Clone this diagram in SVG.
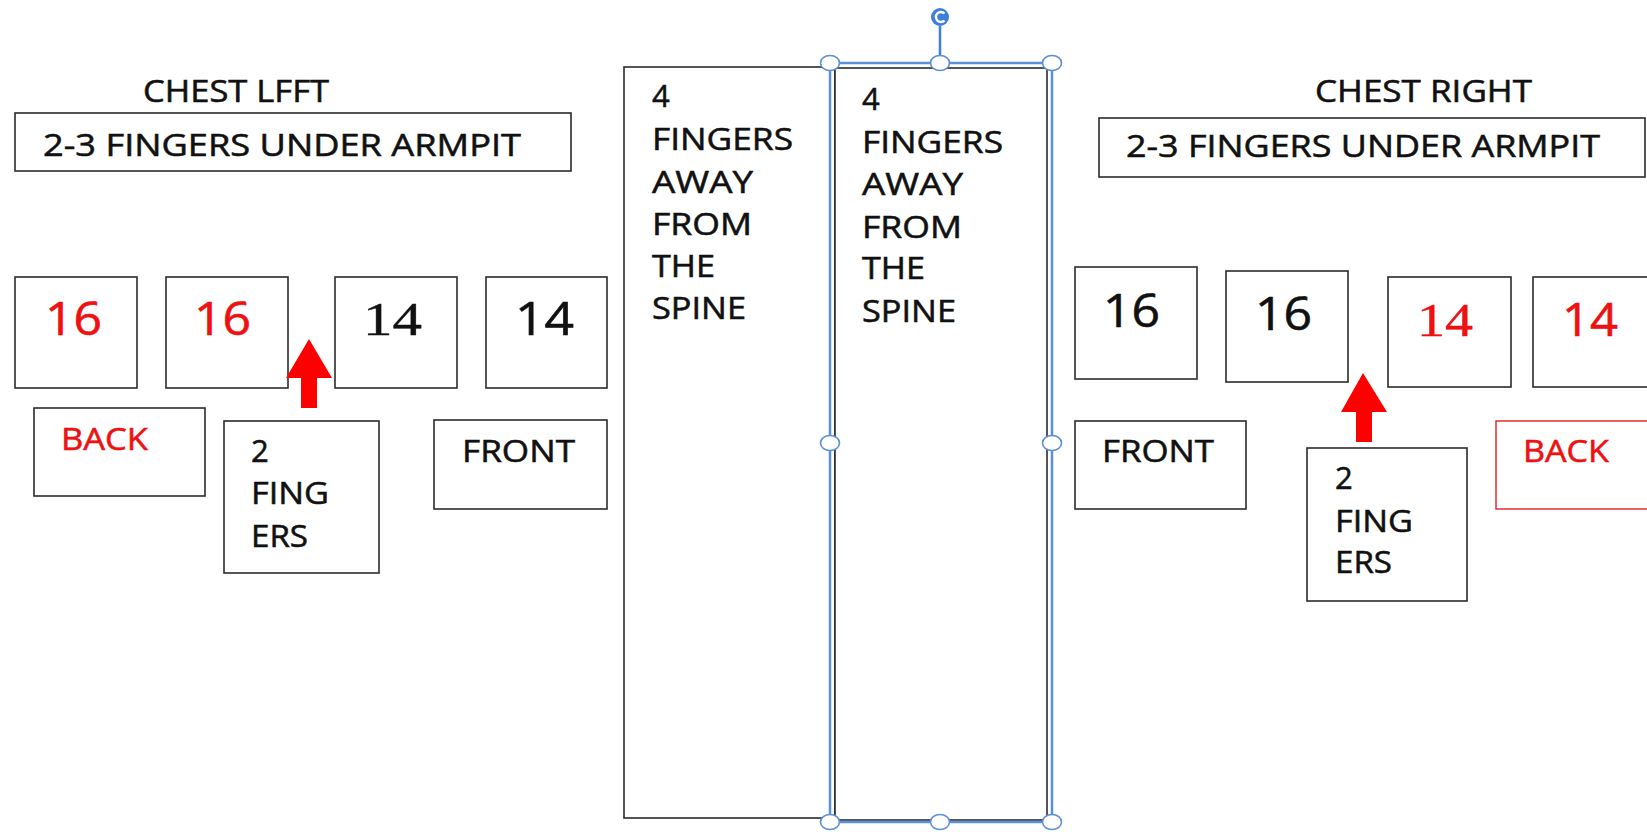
<svg xmlns="http://www.w3.org/2000/svg" width="1647" height="832" viewBox="0 0 1647 832">
<style>
.bx{fill:#fff;stroke:#2b2b2b;stroke-width:1.6}
.bxr{fill:#fff;stroke:#e02020;stroke-width:1.4}
.t{font-family:"Open Sans","Liberation Sans",sans-serif;font-size:31px;fill:#111;stroke:#111;stroke-width:0.55}
.num{font-family:"Open Sans","Liberation Sans",sans-serif;font-size:45px;fill:#111;stroke:#111;stroke-width:0.6}
.ser{font-family:"Liberation Serif","DejaVu Serif",serif;font-size:47px;fill:#111;stroke:#111;stroke-width:0.4}
text.r{fill:#ee1111;stroke:#ee1111}
.arr{fill:#ff0000}
.sel{fill:none;stroke:#5b8fd6;stroke-width:2.5}
.hd{fill:#fff;stroke:#5b8fd6;stroke-width:1.6}
</style>
<rect width="1647" height="832" fill="#fff"/>

<g id="title-left"><text class="t" x="143" y="102" textLength="186" lengthAdjust="spacingAndGlyphs">CHEST LFFT</text></g>
<g id="armpit-left"><rect class="bx" x="15" y="113" width="556" height="58"/><text class="t" x="43" y="156" textLength="478" lengthAdjust="spacingAndGlyphs">2-3 FINGERS UNDER ARMPIT</text></g>

<g id="title-right"><text class="t" x="1315" y="102" textLength="217" lengthAdjust="spacingAndGlyphs">CHEST RIGHT</text></g>
<g id="armpit-right"><rect class="bx" x="1099" y="118" width="546" height="59"/><text class="t" x="1126" y="157" textLength="474" lengthAdjust="spacingAndGlyphs">2-3 FINGERS UNDER ARMPIT</text></g>

<g id="l16a"><rect class="bx" x="15" y="277" width="122" height="111"/><text class="num r" x="45" y="335" textLength="57" lengthAdjust="spacingAndGlyphs">16</text></g>
<g id="l16b"><rect class="bx" x="166" y="277" width="122" height="111"/><text class="num r" x="194" y="335" textLength="57" lengthAdjust="spacingAndGlyphs">16</text></g>
<g id="l14a"><rect class="bx" x="335" y="277" width="122" height="111"/><text class="ser" x="363" y="335" textLength="59" lengthAdjust="spacingAndGlyphs">14</text></g>
<g id="l14b"><rect class="bx" x="486" y="277" width="121" height="111"/><text class="num" x="515" y="335" textLength="59" lengthAdjust="spacingAndGlyphs">14</text></g>

<g id="back-left"><rect class="bx" x="34" y="408" width="171" height="88"/><text class="t r" x="61" y="450" textLength="87" lengthAdjust="spacingAndGlyphs">BACK</text></g>
<g id="fingers-left"><rect class="bx" x="224" y="421" width="155" height="152"/>
<text class="t" x="251" y="462">2</text>
<text class="t" x="251" y="504" textLength="78" lengthAdjust="spacingAndGlyphs">FING</text>
<text class="t" x="251" y="547" textLength="57" lengthAdjust="spacingAndGlyphs">ERS</text></g>
<g id="front-left"><rect class="bx" x="434" y="420" width="173" height="89"/><text class="t" x="462" y="462" textLength="113" lengthAdjust="spacingAndGlyphs">FRONT</text></g>

<g id="spine-left"><rect class="bx" x="624" y="67" width="211" height="751"/>
<text class="t" x="652" y="107">4</text>
<text class="t" x="652" y="150" textLength="141" lengthAdjust="spacingAndGlyphs">FINGERS</text>
<text class="t" x="652" y="193" textLength="101" lengthAdjust="spacingAndGlyphs">AWAY</text>
<text class="t" x="652" y="235" textLength="100" lengthAdjust="spacingAndGlyphs">FROM</text>
<text class="t" x="652" y="277" textLength="63" lengthAdjust="spacingAndGlyphs">THE</text>
<text class="t" x="652" y="319" textLength="94" lengthAdjust="spacingAndGlyphs">SPINE</text></g>

<g id="spine-right"><rect class="bx" x="835" y="68" width="212" height="752"/>
<text class="t" x="862" y="110">4</text>
<text class="t" x="862" y="153" textLength="141" lengthAdjust="spacingAndGlyphs">FINGERS</text>
<text class="t" x="862" y="195" textLength="101" lengthAdjust="spacingAndGlyphs">AWAY</text>
<text class="t" x="862" y="238" textLength="100" lengthAdjust="spacingAndGlyphs">FROM</text>
<text class="t" x="862" y="279" textLength="63" lengthAdjust="spacingAndGlyphs">THE</text>
<text class="t" x="862" y="322" textLength="94" lengthAdjust="spacingAndGlyphs">SPINE</text></g>

<g id="r16a"><rect class="bx" x="1075" y="267" width="122" height="112"/><text class="num" x="1103" y="327" textLength="57" lengthAdjust="spacingAndGlyphs">16</text></g>
<g id="r16b"><rect class="bx" x="1226" y="271" width="122" height="111"/><text class="num" x="1255" y="330" textLength="57" lengthAdjust="spacingAndGlyphs">16</text></g>
<g id="r14a"><rect class="bx" x="1388" y="277" width="123" height="110"/><text class="ser r" x="1417" y="336" textLength="56" lengthAdjust="spacingAndGlyphs">14</text></g>
<g id="r14b"><rect class="bx" x="1533" y="277" width="130" height="110"/><text class="num r" x="1562" y="336" textLength="56" lengthAdjust="spacingAndGlyphs">14</text></g>

<g id="front-right"><rect class="bx" x="1075" y="421" width="171" height="88"/><text class="t" x="1102" y="462" textLength="112" lengthAdjust="spacingAndGlyphs">FRONT</text></g>
<g id="fingers-right"><rect class="bx" x="1307" y="448" width="160" height="153"/>
<text class="t" x="1335" y="489">2</text>
<text class="t" x="1335" y="532" textLength="78" lengthAdjust="spacingAndGlyphs">FING</text>
<text class="t" x="1335" y="573" textLength="57" lengthAdjust="spacingAndGlyphs">ERS</text></g>
<g id="back-right"><rect class="bxr" x="1496" y="421" width="170" height="88"/><text class="t r" x="1523" y="462" textLength="86" lengthAdjust="spacingAndGlyphs">BACK</text></g>

<g id="connectors">
<polygon class="arr" points="309,339 332,378 317,378 317,408 301,408 301,378 286,378"/>
<polygon class="arr" points="1363,373 1387,412 1372,412 1372,442 1356,442 1356,412 1341,412"/>
</g>

<g id="selection">
<rect class="sel" x="830" y="63" width="222" height="759"/>
<line x1="940" y1="26" x2="940" y2="56" stroke="#3d7fd9" stroke-width="2.5"/>
<circle cx="940" cy="17" r="9" fill="#3d7fd9"/>
<path d="M944.5,13.5 A5,5 0 1 0 944.5,20.5" fill="none" stroke="#fff" stroke-width="2.4"/>
<ellipse class="hd" cx="830" cy="63" rx="9.5" ry="7.5"/>
<ellipse class="hd" cx="940" cy="63" rx="9.5" ry="7.5"/>
<ellipse class="hd" cx="1052" cy="63" rx="9.5" ry="7.5"/>
<ellipse class="hd" cx="830" cy="443" rx="9.5" ry="7.5"/>
<ellipse class="hd" cx="1052" cy="443" rx="9.5" ry="7.5"/>
<ellipse class="hd" cx="830" cy="822" rx="9.5" ry="7.5"/>
<ellipse class="hd" cx="940" cy="822" rx="9.5" ry="7.5"/>
<ellipse class="hd" cx="1052" cy="822" rx="9.5" ry="7.5"/>
</g>
</svg>
